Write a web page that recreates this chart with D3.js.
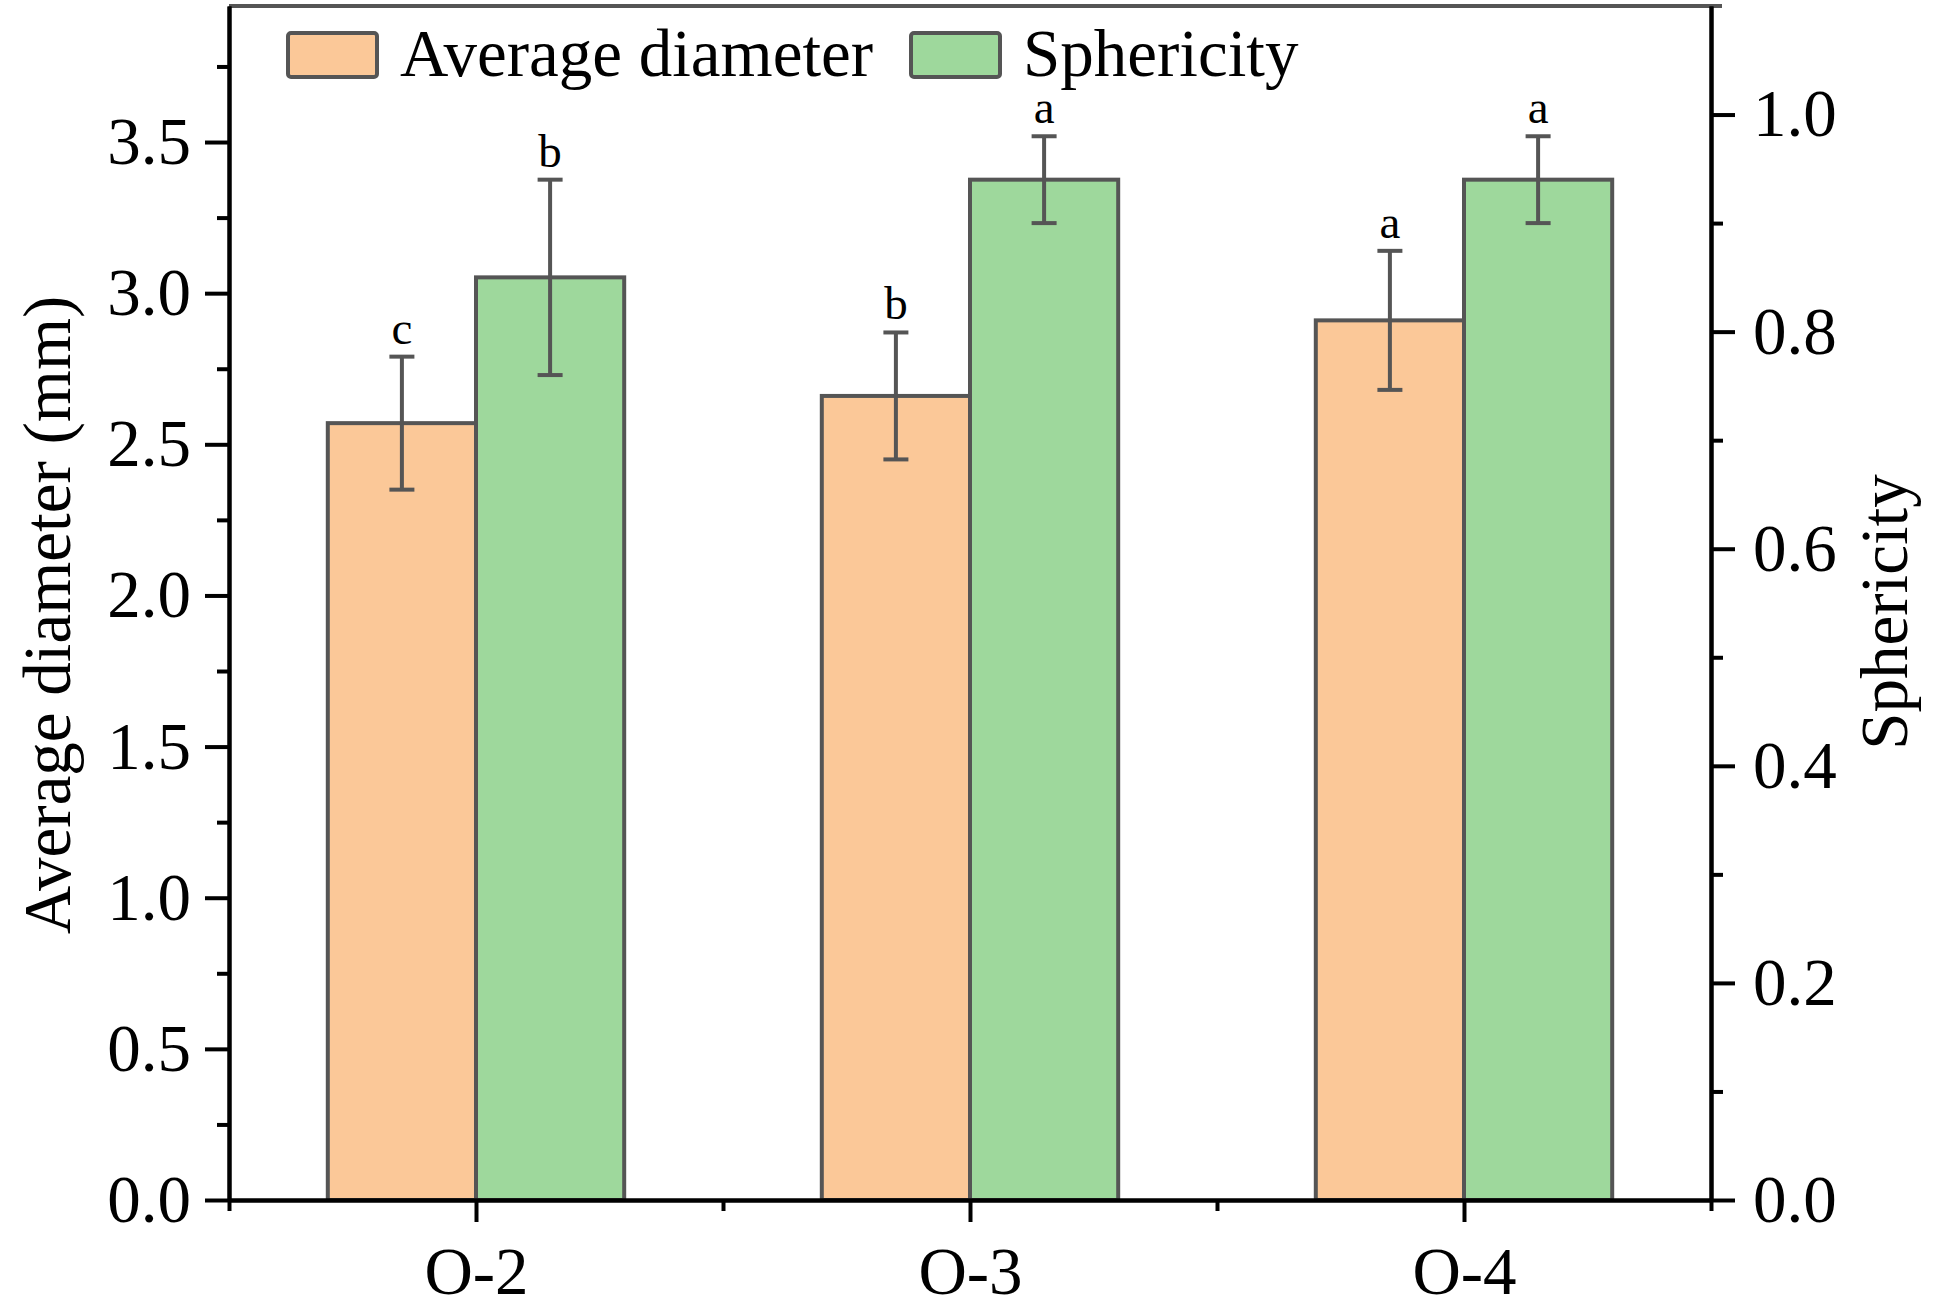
<!DOCTYPE html>
<html>
<head>
<meta charset="utf-8">
<script src="https://cdn.jsdelivr.net/npm/d3@7"></script>
<style>
  body { margin: 0; background: #fff; }
  svg { display: block; }
</style>
</head>
<body>
<div id="chart"></div>
<script>
// data
const categories = ["O-2", "O-3", "O-4"];
const diameter = [2.57, 2.66, 2.91];
const diameterErr = [0.22, 0.21, 0.23];
const diameterLetters = ["c", "b", "a"];
const sphericity = [0.85, 0.94, 0.94];
const sphericityErr = [0.09, 0.04, 0.04];
const sphericityLetters = ["b", "a", "a"];
const leftTicks = [0, 0.5, 1, 1.5, 2, 2.5, 3, 3.5];
const leftMinor = [0.25, 0.75, 1.25, 1.75, 2.25, 2.75, 3.25, 3.75];
const rightTicks = [0, 0.2, 0.4, 0.6, 0.8, 1.0];
const rightMinor = [0.1, 0.3, 0.5, 0.7, 0.9];

const width = 1937, height = 1313;
const font = "'Times New Roman', 'Liberation Serif', serif";
const fontSize = "67px";
const orange = "#fbc898", green = "#9ed89c", edge = "#555555";

const svg = d3.select("#chart").append("svg")
    .attr("width", width)
    .attr("height", height)
    .style("background", "#fff");

// Scales
const x = d3.scaleLinear().domain([0.5, 3.5]).range([229, 1711]);
const yL = d3.scaleLinear().domain([0, 3.95]).range([1200, 6]);
const yR = d3.scaleLinear().domain([0, 1.1]).range([1200, 6]);
const half = 0.3;

// top frame
svg.append("line")
    .attr("x1", x(0.5)).attr("x2", x(3.5) + 11)
    .attr("y1", yL(3.95)).attr("y2", yL(3.95))
    .attr("stroke", edge).attr("stroke-width", 4);

// Bars
const bars = svg.append("g");
bars.selectAll("rect.d")
    .data(diameter)
    .enter().append("rect")
    .attr("class", "d")
    .attr("x", (d, i) => x(i + 1 - half))
    .attr("y", d => yL(d))
    .attr("width", x(1) - x(1 - half))
    .attr("height", d => yL(0) - yL(d))
    .attr("fill", orange)
    .attr("stroke", edge)
    .attr("stroke-width", 4);

bars.selectAll("rect.s")
    .data(sphericity)
    .enter().append("rect")
    .attr("class", "s")
    .attr("x", (d, i) => x(i + 1))
    .attr("y", d => yR(d))
    .attr("width", x(1 + half) - x(1))
    .attr("height", d => yR(0) - yR(d))
    .attr("fill", green)
    .attr("stroke", edge)
    .attr("stroke-width", 4);

// Error bars + letters
function errorBars(vals, errs, letters, y, offset) {
    const g = svg.append("g");
    vals.forEach((v, i) => {
        const cx = x(i + 1 + offset);
        const top = y(v + errs[i]), bot = y(v - errs[i]);
        g.append("line").attr("x1", cx).attr("x2", cx)
            .attr("y1", top).attr("y2", bot)
            .attr("stroke", edge).attr("stroke-width", 4);
        [top, bot].forEach(yy => {
            g.append("line").attr("x1", cx - 12.5).attr("x2", cx + 12.5)
                .attr("y1", yy).attr("y2", yy)
                .attr("stroke", edge).attr("stroke-width", 4);
        });
        g.append("text")
            .attr("x", cx).attr("y", top - 13)
            .attr("text-anchor", "middle")
            .style("font-family", font)
            .style("font-size", "47px")
            .text(letters[i]);
    });
}
errorBars(diameter, diameterErr, diameterLetters, yL, -half / 2);
errorBars(sphericity, sphericityErr, sphericityLetters, yR, half / 2);

// Axes
function styleAxis(g, color) {
    g.select(".domain").attr("stroke", color || "#000").attr("stroke-width", 4);
    g.selectAll(".tick line").attr("stroke", "#000").attr("stroke-width", 4);
    g.selectAll("text").style("font-family", font).style("font-size", fontSize).attr("fill", "#000");
}

const fmt = d3.format(".1f");

svg.append("g")
    .attr("transform", `translate(${x(0.5)},0)`)
    .call(d3.axisLeft(yL).tickValues(leftMinor).tickSize(12).tickSizeOuter(0).tickFormat(""))
    .call(styleAxis);
svg.append("g")
    .attr("transform", `translate(${x(0.5)},0)`)
    .call(d3.axisLeft(yL).tickValues(leftTicks).tickSize(24).tickSizeOuter(0).tickPadding(14).tickFormat(fmt))
    .call(styleAxis);

svg.append("g")
    .attr("transform", `translate(${x(3.5)},0)`)
    .call(d3.axisRight(yR).tickValues(rightMinor).tickSize(12).tickSizeOuter(0).tickFormat(""))
    .call(styleAxis);
svg.append("g")
    .attr("transform", `translate(${x(3.5)},0)`)
    .call(d3.axisRight(yR).tickValues(rightTicks).tickSize(24).tickSizeOuter(0).tickPadding(18).tickFormat(fmt))
    .call(styleAxis);

svg.append("g")
    .attr("transform", `translate(0,${yL(0)})`)
    .call(d3.axisBottom(x).tickValues([0.5, 1.5, 2.5, 3.5]).tickSize(11).tickSizeOuter(0).tickFormat(""))
    .call(styleAxis);
svg.append("g")
    .attr("transform", `translate(0,${yL(0)})`)
    .call(d3.axisBottom(x).tickValues([1, 2, 3]).tickSize(22).tickSizeOuter(0).tickPadding(24)
        .tickFormat(d => categories[d - 1]))
    .call(styleAxis);

// Axis titles
svg.append("text")
    .attr("transform", `translate(70,${(yL(0) + yL(3.95)) / 2 + 12}) rotate(-90)`)
    .attr("text-anchor", "middle")
    .style("font-family", font)
    .style("font-size", fontSize)
    .text("Average diameter (mm)");

svg.append("text")
    .attr("transform", `translate(1907,${(yL(0) + yL(3.95)) / 2 + 9}) rotate(-90)`)
    .attr("text-anchor", "middle")
    .style("font-family", font)
    .style("font-size", fontSize)
    .text("Sphericity");

// Legend
const legend = [
    { label: "Average diameter", color: orange, bx: 288 },
    { label: "Sphericity", color: green, bx: 911 }
];
const lg = svg.append("g");
legend.forEach(l => {
    lg.append("rect")
        .attr("x", l.bx).attr("y", 33)
        .attr("width", 89).attr("height", 44)
        .attr("rx", 3)
        .attr("fill", l.color)
        .attr("stroke", edge)
        .attr("stroke-width", 4);
    lg.append("text")
        .attr("x", l.bx + 112).attr("y", 76)
        .style("font-family", font)
        .style("font-size", fontSize)
        .text(l.label);
});
</script>
</body>
</html>
